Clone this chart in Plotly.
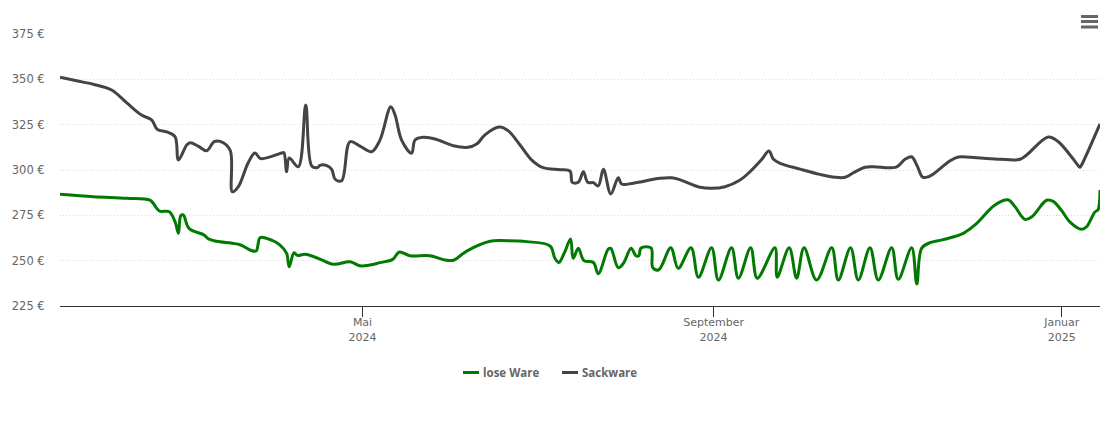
import pandas as pd
import plotly.graph_objects as go

# days counted from the first date on the chart
start = pd.Timestamp('2024-01-16')

lose_days = [0, 11.7, 23.4, 31.5, 32.7, 34.8, 38.3, 40.3, 41.5, 42.3, 43.2, 45.2, 50.5, 52, 54.9, 63.1,
             66.6, 68.7, 70.1, 72.4, 77.1, 79.4, 80.3, 82, 83.2, 85.8, 90.5, 95.8, 101.6, 105.1, 108.6,
             112.1, 116.6, 118.9, 122.6, 129.6, 134.9, 137.8, 142.5, 150.7, 156.5, 163.5, 171.7, 173.4,
             174.8, 176.9, 178.9, 179.8, 181.6, 183.6, 186.9, 188.6, 192.1, 193, 195.6, 197.4, 200.1,
             201.8, 202.8, 203.6, 207.1, 207.7, 209.8, 214, 216.6, 221.1, 223.7, 228.3, 230.7, 235.3,
             237.7, 242, 244.3, 250.5, 251.3, 255.5, 258.1, 260.7, 265.1, 270.4, 272.7, 277, 279.7,
             283.8, 286.7, 291.4, 293.7, 298.4, 300.2, 301.9, 304.8, 308.3, 310.7, 316.5, 320.6, 327.6,
             332.3, 334.6, 338.1, 340.5, 345.7, 348, 351, 353.9, 358, 359.7, 362.6, 363.7, 364.4]
lose_prices = [286.6, 285.3, 284.4, 283.4, 281.6, 277.4, 277, 271.5, 265.1, 274.8, 275.2, 267.8, 264.1, 262,
               260.7, 258.8, 255.9, 255.3, 262.7, 262.3, 258.6, 254, 246.7, 254.4, 252.9, 253.5, 251.3, 248,
               249.4, 247.2, 247.6, 248.9, 250.7, 254.8, 252.7, 252.7, 250.4, 250.2, 255.3, 260.7, 261,
               260.5, 258.1, 251.3, 249, 255, 262, 251.3, 256.8, 250, 249, 242.8, 256.4, 256.8, 246.1,
               248.5, 256.8, 252.7, 252.7, 257, 257, 246.1, 245, 257.1, 245.8, 257.1, 240.9, 257.1, 239.3,
               257.1, 240.3, 257.1, 240.3, 257.1, 240.9, 257.1, 240.3, 257.1, 239.3, 257.1, 239.3, 257.1,
               239.3, 257.1, 239.3, 257.1, 239.7, 257.1, 237.1, 256.8, 259.9, 261.2, 262.1, 265.1, 269.7,
               280.7, 283.5, 279.8, 272.8, 274.2, 283.3, 282.7, 277.5, 271.3, 267.3, 268.7, 276.8, 278.1, 289]

sack_days = [0, 5.8, 11.6, 18.1, 23.4, 28.6, 32.1, 34.1, 37.4, 40.3, 41.5, 44.4, 45.6, 48.4, 51.4, 54, 56.1,
             59.6, 60.4, 62.5, 65.9, 68.3, 70.3, 78, 78.5, 79.4, 80.3, 83.5, 86.1, 88.2, 90.2, 91.1, 93.5,
             95.2, 96.4, 98.7, 101.6, 105.1, 109.2, 112.1, 115.9, 117.4, 119.7, 123.2, 124.4, 127.3, 131.4,
             137.8, 143, 146, 149, 153.9, 157, 161.2, 165.3, 169.3, 175.2, 178.7, 179.5, 181.6, 183.4,
             184.9, 186.9, 188.6, 190.4, 193, 195.6, 196.8, 200.9, 210.2, 214.3, 216.6, 224.3, 228.3, 233,
             238.3, 241.8, 245.9, 248.4, 250, 252.3, 259.3, 266.3, 271.6, 275.1, 278, 282.1, 285, 293,
             296.1, 298.4, 300.2, 302.3, 304.3, 306, 311.9, 314.8, 321.2, 329.4, 336.4, 338.7,
             346.3, 349.8, 353.9, 357, 357.4, 357.8, 364.4]
sack_prices = [351.1, 349.2, 347.3, 344.1, 337, 330.3, 327.6, 322.4, 321, 318.4, 305.5, 313.8, 315, 313.2,
               310.6, 315.6, 315.8, 311, 288, 290.8, 303.9, 309.4, 306.3, 309.5, 309.5, 299, 306.6, 301.8,
               335.8, 302.2, 301.3, 302.6, 302.4, 300.4, 294.9, 294.1, 315.6, 313.2, 310.1, 316.5, 334.9,
               330.3, 316.5, 309.2, 316.5, 318, 317.1, 313.4, 312.5, 314.3, 319.5, 323.7, 321.7, 313.8,
               305.5, 301.3, 300.2, 299.4, 293.2, 293.2, 299, 293.2, 293, 291.2, 300.4, 286.8, 295.7, 292.3,
               292.7, 295.4, 295.7, 295, 290.5, 289.9, 290.8, 294.5, 299.1, 305.9, 310.5, 305.9, 303.7,
               300.5, 297.6, 296, 296, 298.5, 301.5, 301.8, 301.6, 305.9, 307.3, 302.8, 296, 296.3, 297.8,
               305.1, 307.2, 306.8, 305.9, 305.9, 308.3, 318.2, 315.6, 308.3, 302, 301.5, 302.3, 325.4]

tick_dates = ['2024-05-01', '2024-09-01', '2025-01-01']
tick_labels = ['Mai<br>2024', 'September<br>2024', 'Januar<br>2025']
price_ticks = [225, 250, 275, 300, 325, 350, 375]

series_names = ['lose Ware', 'Sackware']
series_colors = ['#007a00', '#434348']


def toDates(days):
    return start + pd.to_timedelta(days, unit='D')


fig = go.Figure()
fig.add_trace(go.Scatter(x=toDates(lose_days), y=lose_prices, name=series_names[0], mode='lines',
                         line=dict(color=series_colors[0], width=3, shape='spline', smoothing=1)))
fig.add_trace(go.Scatter(x=toDates(sack_days), y=sack_prices, name=series_names[1], mode='lines',
                         line=dict(color=series_colors[1], width=3, shape='spline', smoothing=1)))

font = 'DejaVu Sans'
# the page body adds 8px around the figure
fig.update_layout(
    width=1102,
    height=415,
    margin=dict(l=52, r=10, t=26, b=117),
    paper_bgcolor='white',
    plot_bgcolor='white',
    showlegend=False,
    font=dict(family=font, size=11, color='#666666'),
)
fig.update_xaxes(
    range=[start, toDates(364.4)],
    tickvals=tick_dates,
    ticktext=tick_labels,
    ticks='outside',
    ticklen=10,
    tickcolor='#333333',
    tickwidth=1,
    ticklabelstandoff=-4,
    showline=True,
    linecolor='#333333',
    showgrid=False,
    zeroline=False,
)
fig.update_yaxes(
    range=[225, 375],
    tickvals=price_ticks,
    ticktext=[f'{p} €' for p in price_ticks],
    ticks='outside',
    ticklen=12,
    tickcolor='rgba(0,0,0,0)',
    tickfont=dict(size=11.5),
    showgrid=True,
    gridcolor='#dddddd',
    griddash='1px,2px',
    gridwidth=1,
    zeroline=False,
    automargin=False,
)

# export menu icon, top right
for top in [15, 20, 25.5]:
    fig.add_shape(type='rect', xref='x domain', yref='paper', x0=(1081 - 60) / 1040, x1=(1098 - 60) / 1040,
                  y0=(306 - top) / 272, y1=(306 - top - 3) / 272, line_width=0, fillcolor='#666666')

# legend: short line swatches like the original
for name, color, line_x in zip(series_names, series_colors, [463, 562]):
    fig.add_shape(type='line', xref='x domain', yref='paper', x0=(line_x - 60) / 1040, x1=(line_x + 16 - 60) / 1040,
                  y0=(306 - 372.5) / 272, y1=(306 - 372.5) / 272, line=dict(color=color, width=3))
    fig.add_annotation(text=name, xref='x domain', yref='paper', x=(line_x + 18 - 60) / 1040, y=(306 - 372.5) / 272,
                       xanchor='left', yanchor='middle', showarrow=False,
                       font=dict(family='Open Sans', size=11.5, color='#666666', weight='bold'))

fig.write_html('out.html')
